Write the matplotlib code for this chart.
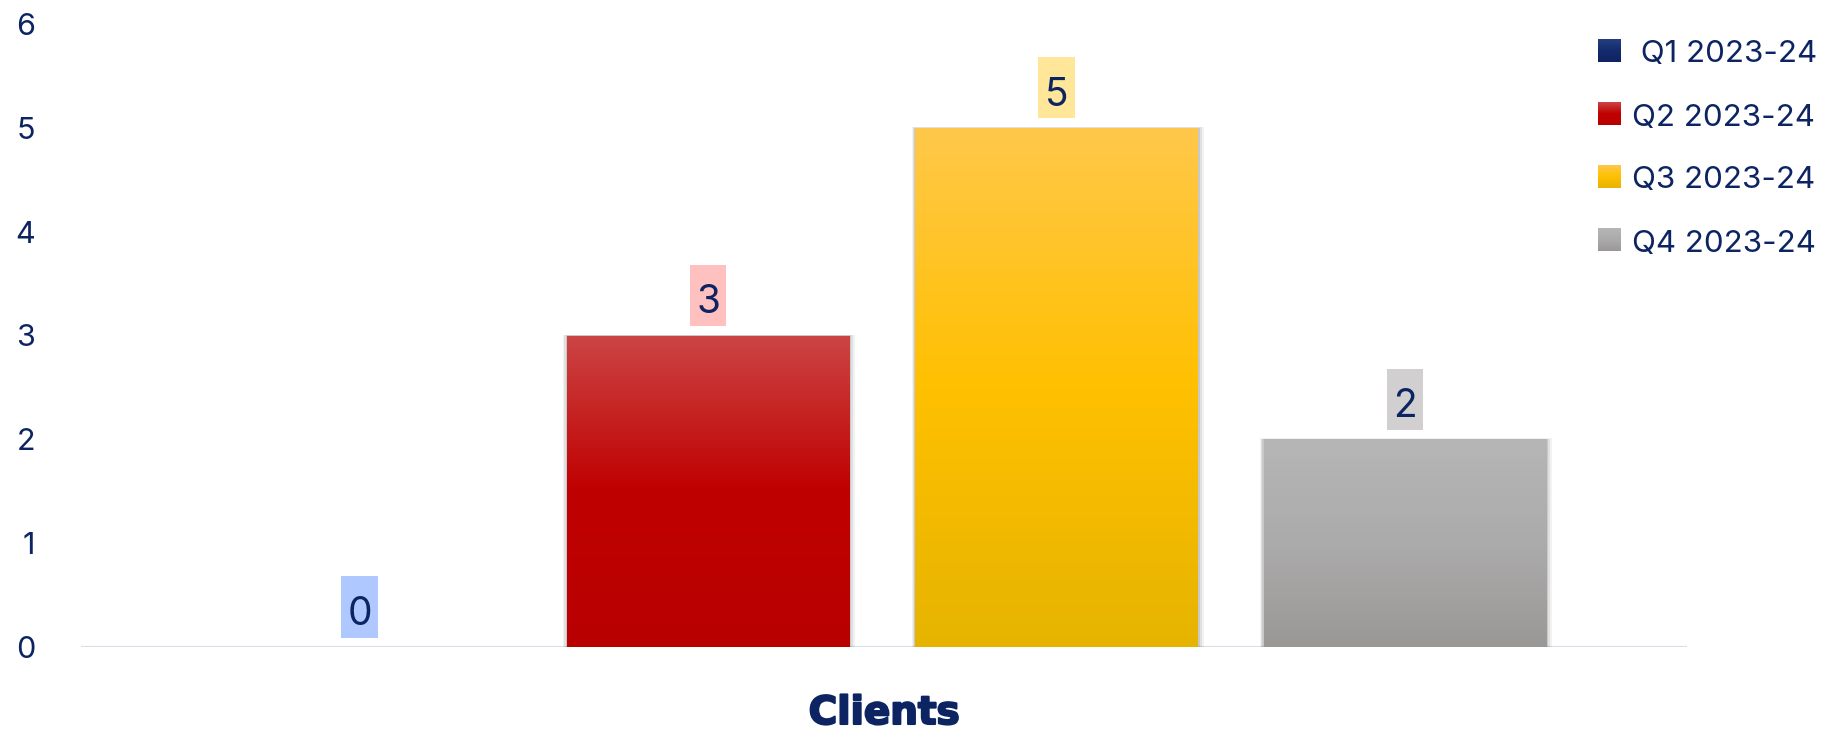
import matplotlib
matplotlib.use("Agg")
import matplotlib.pyplot as plt
import matplotlib.patheffects as pe
import numpy as np
from matplotlib.colors import LinearSegmentedColormap
from matplotlib.patches import Rectangle

# ---- data ----
series = [" Q1 2023-24", "Q2 2023-24", "Q3 2023-24", "Q4 2023-24"]
values = [0, 3, 5, 2]
category = "Clients"
yticks = [0, 1, 2, 3, 4, 5, 6]

# ---- styles ----
grad_colors = [
    ["#243F80", "#132B6C", "#0E2363"],
    ["#CC4545", "#C00000", "#B90000"],
    ["#FFC84A", "#FFC000", "#E6B400"],
    ["#B7B6B6", "#ACABAB", "#9A9897"],
]
label_box_colors = ["#AFC8FF", "#FFC0C0", "#FFE699", "#D1CFCF"]
navy = "#0C2461"
FONT = ["Inter", "DejaVu Sans"]

W, H = 1824, 733
fig = plt.figure(figsize=(W / 100, H / 100), dpi=100)
ax = fig.add_axes([81 / W, 1 - 647 / H, (1687 - 81) / W, (647 - 24) / H])

x = np.arange(len(values))
bar_w = 0.81
bars = ax.bar(x, values, width=bar_w, color="none", zorder=3)

for i, (b, v) in enumerate(zip(bars, values)):
    if v <= 0:
        continue
    x0, w, h = b.get_x(), b.get_width(), b.get_height()
    # soft shadow
    for k, a in [(0.018, 0.05), (0.012, 0.07), (0.006, 0.10)]:
        ax.add_patch(Rectangle((x0 - k * 0.6, 0), w + k * 1.6, h + k * 0.5,
                               facecolor="black", edgecolor="none", alpha=a, zorder=2))
    cmap = LinearSegmentedColormap.from_list(f"g{i}", grad_colors[i][::-1])
    grad = np.linspace(0, 1, 256).reshape(-1, 1)
    im = ax.imshow(grad, cmap=cmap, extent=[x0, x0 + w, 0, h], origin="lower",
                   aspect="auto", zorder=3.5, interpolation="bilinear")
    im.set_clip_path(b)

# value labels with boxes
box_w = 0.105
for i, v in enumerate(values):
    ax.add_patch(Rectangle((x[i] - box_w / 2, v + 0.09), box_w, 0.59,
                           facecolor=label_box_colors[i], edgecolor="none", zorder=4))
    ax.text(x[i], v + 0.215, str(v), ha="center", va="baseline", fontsize=28,
            color=navy, family=FONT, zorder=5)

ax.axhline(0, color="#DAE0E9", lw=2.3, zorder=1)

ax.set_xlim(-0.80, 3.81)
ax.set_ylim(0, 6)
ax.set_yticks(yticks)
ax.set_yticklabels([str(t) for t in yticks], family=FONT, fontsize=22, color=navy)
ax.tick_params(axis="y", length=0, pad=33)
ax.set_xticks([])
for s in ax.spines.values():
    s.set_visible(False)

# category label
fig.text(884 / W, 1 - 713 / H, category, ha="center", va="center",
         fontsize=28, fontweight="bold", color=navy, family=["DejaVu Sans"],
         path_effects=[pe.withStroke(linewidth=1.5, foreground=navy)])

# legend overlay
ov = fig.add_axes([0, 0, 1, 1])
ov.set_xlim(0, W)
ov.set_ylim(H, 0)
ov.axis("off")
row_y = [50.5, 114, 177, 240]
for i, name in enumerate(series):
    cy = row_y[i]
    cmap = LinearSegmentedColormap.from_list(f"l{i}", grad_colors[i])
    grad = np.linspace(0, 1, 64).reshape(-1, 1)
    ov.imshow(grad, cmap=cmap, extent=[1598, 1621, cy + 11.5, cy - 11.5],
              aspect="auto", interpolation="bilinear", origin="upper")
    ov.text(1632, cy + 11.5, name, ha="left", va="baseline", fontsize=22.5,
            color=navy, family=FONT)
ov.set_xlim(0, W)
ov.set_ylim(H, 0)

fig.savefig("out.png", dpi=100, facecolor="white")
